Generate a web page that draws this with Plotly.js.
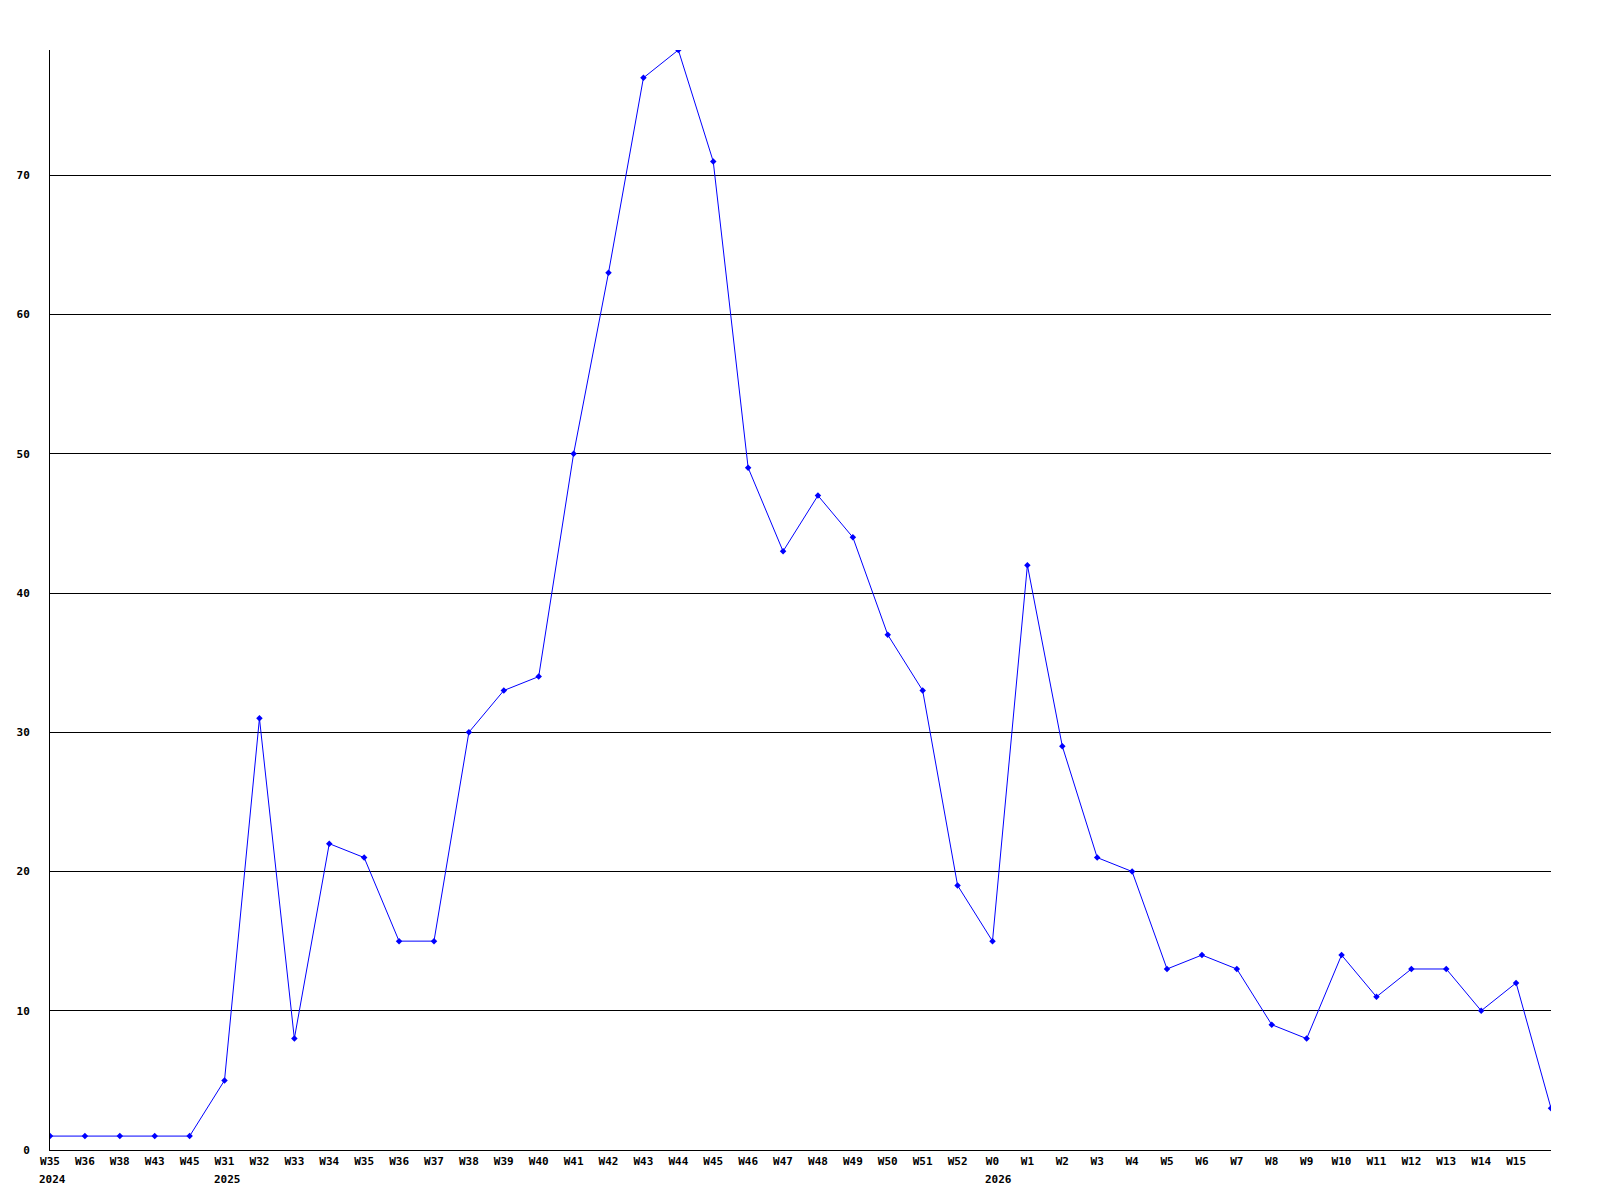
<!DOCTYPE html>
<html>
<head>
<meta charset="utf-8">
<script src="https://cdn.plot.ly/plotly-3.0.1.min.js"></script>
<style>html,body{margin:0;padding:0;background:#fff;}#chart{width:1600px;height:1200px;}</style>
</head>
<body>
<div id="chart"></div>
<script>
// Week labels (last point has no label)
const weekLabels = ["W35","W36","W38","W43","W45",
  "W31","W32","W33","W34","W35","W36","W37","W38","W39","W40","W41","W42","W43","W44","W45","W46","W47","W48","W49","W50","W51","W52",
  "W0","W1","W2","W3","W4","W5","W6","W7","W8","W9","W10","W11","W12","W13","W14","W15",""];
const counts = [1,1,1,1,1,
  5,31,8,22,21,15,15,30,33,34,50,63,77,79,71,49,43,47,44,37,33,19,
  15,42,29,21,20,13,14,13,9,8,14,11,13,13,10,12,3];
// Year markers: index of first week of each year, with label
const yearIndex = [0, 5, 27];
const yearText = ["2024","2025","2026"];
const yTicks = [0,10,20,30,40,50,60,70];

const xs = counts.map((_, i) => i);
const font = {family: "DejaVu Sans Mono, monospace", size: 11, color: "#000", weight: "bold"};

const annotations = yearIndex.map((idx, k) => {
  const lab = weekLabels[idx];
  return {
    x: idx, xref: "x", y: 0, yref: "paper",
    text: "<b>" + yearText[k] + "</b>", showarrow: false,
    xanchor: "left", yanchor: "top",
    xshift: -lab.length * 3.3 - 3, yshift: -21,
    font: font
  };
});

Plotly.newPlot("chart", [{
  x: xs, y: counts, type: "scatter", mode: "lines+markers",
  line: {color: "#0000ff", width: 1},
  marker: {color: "#0000ff", size: 5, symbol: "diamond"},
  hoverinfo: "skip"
}], {
  width: 1600, height: 1200,
  margin: {l: 50, r: 49, t: 50, b: 50},
  paper_bgcolor: "#fff", plot_bgcolor: "#fff",
  showlegend: false,
  font: font,
  xaxis: {
    range: [0, xs.length - 1],
    tickmode: "array",
    tickvals: xs.slice(0, weekLabels.length - 1),
    ticktext: weekLabels.slice(0, weekLabels.length - 1).map(t => "<b>" + t + "</b>"),
    showgrid: false, zeroline: false,
    showline: true, linecolor: "#000", linewidth: 1,
    ticks: "", tickangle: 0, tickfont: font,
    ticklabelstandoff: 1
  },
  yaxis: {
    range: [0, 79],
    tickmode: "array",
    tickvals: yTicks,
    ticktext: yTicks.map(t => "<b>" + t + "</b>"),
    showgrid: true, gridcolor: "#000", gridwidth: 1,
    zeroline: false,
    showline: true, linecolor: "#000", linewidth: 1,
    ticks: "", tickfont: font,
    ticklabelstandoff: 17
  },
  annotations: annotations
}, {displayModeBar: false, staticPlot: true});
</script>
</body>
</html>
